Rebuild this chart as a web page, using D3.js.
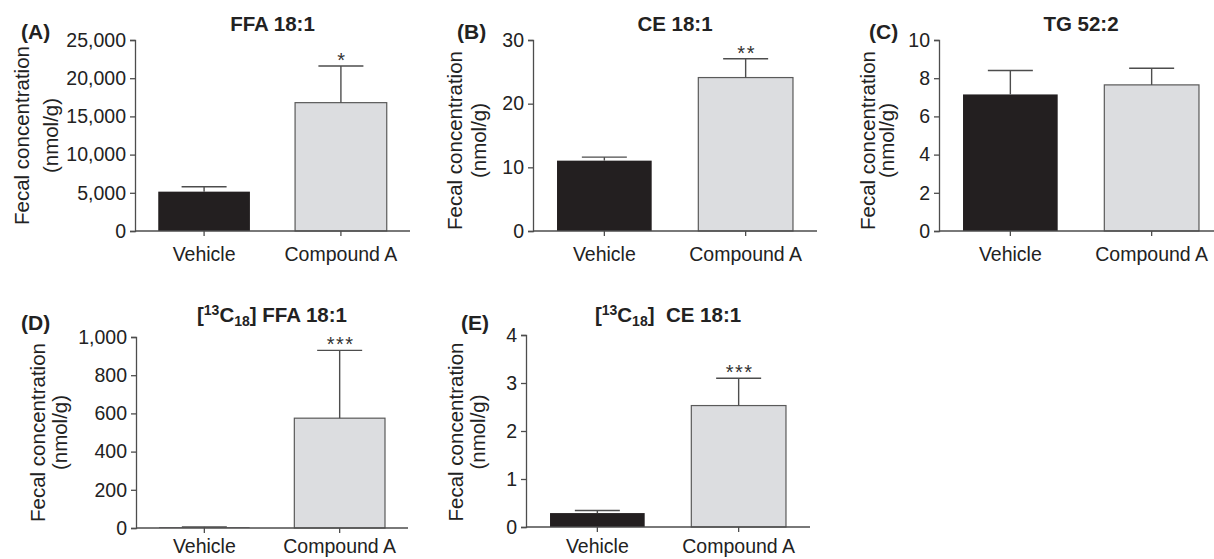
<!DOCTYPE html>
<html>
<head>
<meta charset="utf-8">
<script src="https://cdn.jsdelivr.net/npm/d3@7"></script>
<style>
  body { margin: 0; background: #fff; }
  svg { display: block; font-family: "Liberation Sans", Arial, sans-serif; }
  .axis path, .axis line { stroke: #4d4d4d; stroke-width: 1.3; }
  .axis text { font-size: 19.5px; fill: #222; }
</style>
</head>
<body>
<figure style="margin:0"></figure>
<script>
// groups on the x axis
var categories = ["Vehicle", "Compound A"];

// panel labels and titles
var letters = ["(A)", "(B)", "(C)", "(D)", "(E)"];
var titles  = ["FFA 18:1", "CE 18:1", "TG 52:2", "[13C18] FFA 18:1", "[13C18]  CE 18:1"];

// bar heights (mean) and error bars (SEM), per panel, [Vehicle, Compound A]
var meanA = [5150, 16800],  semA = [650, 4800];
var meanB = [11.05, 24.1],  semB = [0.55, 2.95];
var meanC = [7.15, 7.65],   semC = [1.25, 0.87];
var meanD = [3, 575],       semD = [3, 355];
var meanE = [0.29, 2.53],   semE = [0.055, 0.57];

// significance marks
var starsA = ["", "*"], starsB = ["", "**"], starsC = ["", ""],
    starsD = ["", "***"], starsE = ["", "***"];

// y tick values
var ticksA = [0, 5000, 10000, 15000, 20000, 25000];
var ticksB = [0, 10, 20, 30];
var ticksC = [0, 2, 4, 6, 8, 10];
var ticksD = [0, 200, 400, 600, 800, 1000];
var ticksE = [0, 1, 2, 3, 4];

var W = 1214, H = 559;

// where each panel sits on the page
var layout = [
  {x0: 135, w: 275, top: 40,  bot: 231, t1: -106, t2: -77, tc: 0, lx: 21,  ty: 31,  xl: 30},
  {x0: 533, w: 284, top: 40,  bot: 231, t1: -71,  t2: -47, tc: 5, lx: 457, ty: 31,  xl: 30},
  {x0: 939, w: 284, top: 40,  bot: 231, t1: -64,  t2: -45, tc: 5, lx: 869, ty: 31,  xl: 30},
  {x0: 136, w: 272, top: 337, bot: 528, t1: -91,  t2: -69, tc: 0, lx: 21,  ty: 322, xl: 25},
  {x0: 526, w: 284, top: 335, bot: 527, t1: -63,  t2: -41, tc: 1, lx: 461, ty: 322, xl: 26}
];

var panels = [
  {mean: meanA, sem: semA, stars: starsA, ticks: ticksA},
  {mean: meanB, sem: semB, stars: starsB, ticks: ticksB},
  {mean: meanC, sem: semC, stars: starsC, ticks: ticksC},
  {mean: meanD, sem: semD, stars: starsD, ticks: ticksD},
  {mean: meanE, sem: semE, stars: starsE, ticks: ticksE}
];

var fills = ["#231f20", "#dcdde0"];

var svg = d3.select("figure").append("svg")
    .attr("width", W)
    .attr("height", H);

var fmt = d3.format(",");

panels.forEach(function(p, i) {
  var L = layout[i];
  var ticks = p.ticks;

  var x = d3.scaleBand()
      .domain(categories)
      .range([L.x0, L.x0 + L.w])
      .paddingInner(0.33)
      .paddingOuter(0.17);
  var y = d3.scaleLinear()
      .domain([0, ticks[ticks.length - 1]])
      .range([L.bot, L.top]);

  var g = svg.append("g");

  // bars
  g.selectAll("rect.bar")
      .data(categories)
      .enter().append("rect")
      .attr("class", "bar")
      .attr("x", function(d) { return x(d); })
      .attr("width", x.bandwidth())
      .attr("y", function(d, j) { return y(p.mean[j]); })
      .attr("height", function(d, j) { return y(0) - y(p.mean[j]); })
      .attr("fill", function(d, j) { return fills[j]; })
      .attr("stroke", function(d, j) { return j ? "#5a5a5a" : "none"; })
      .attr("stroke-width", 1.2);

  // error bars (upper only)
  var eb = g.selectAll("g.err")
      .data(categories)
      .enter().append("g")
      .attr("class", "err")
      .attr("stroke", "#4d4d4d")
      .attr("stroke-width", 1.4);
  eb.append("line")
      .attr("x1", function(d) { return x(d) + x.bandwidth() / 2; })
      .attr("x2", function(d) { return x(d) + x.bandwidth() / 2; })
      .attr("y1", function(d, j) { return y(p.mean[j]); })
      .attr("y2", function(d, j) { return y(p.mean[j] + p.sem[j]); });
  eb.append("line")
      .attr("x1", function(d) { return x(d) + x.bandwidth() / 2 - 22.5; })
      .attr("x2", function(d) { return x(d) + x.bandwidth() / 2 + 22.5; })
      .attr("y1", function(d, j) { return y(p.mean[j] + p.sem[j]); })
      .attr("y2", function(d, j) { return y(p.mean[j] + p.sem[j]); });

  // stars
  g.selectAll("text.star")
      .data(categories)
      .enter().append("text")
      .attr("class", "star")
      .attr("x", function(d) { return x(d) + x.bandwidth() / 2 + 1; })
      .attr("y", function(d, j) { return y(p.mean[j] + p.sem[j]) + 1; })
      .attr("text-anchor", "middle")
      .attr("font-size", 20)
      .attr("letter-spacing", 1.5)
      .attr("fill", "#333")
      .text(function(d, j) { return p.stars[j]; });

  // axes
  g.append("g")
      .attr("class", "axis")
      .attr("transform", "translate(" + L.x0 + ",0)")
      .call(d3.axisLeft(y).tickValues(ticks).tickFormat(fmt)
            .tickSizeOuter(0).tickSize(5).tickPadding(4));
  var xa = g.append("g")
      .attr("class", "axis")
      .attr("transform", "translate(0," + L.bot + ")")
      .call(d3.axisBottom(x).tickSizeOuter(0).tickSize(5).tickPadding(4));
  xa.selectAll("text").attr("dy", null).attr("y", L.xl);
  // x axis line runs the full panel width
  xa.select(".domain").attr("d", "M" + L.x0 + ",0H" + (L.x0 + L.w));

  // y axis title
  var cy = (L.top + L.bot) / 2 + L.tc;
  g.append("text")
      .attr("transform", "translate(" + (L.x0 + L.t1) + "," + cy + ") rotate(-90)")
      .attr("text-anchor", "middle")
      .attr("font-size", 20.5)
      .attr("fill", "#222")
      .text("Fecal concentration");
  g.append("text")
      .attr("transform", "translate(" + (L.x0 + L.t2) + "," + cy + ") rotate(-90)")
      .attr("text-anchor", "middle")
      .attr("font-size", 20.5)
      .attr("fill", "#222")
      .text("(nmol/g)");

  // panel letter
  g.append("text")
      .attr("x", L.lx)
      .attr("y", L.ty + 8)
      .attr("font-size", 21)
      .attr("font-weight", "bold")
      .attr("fill", "#222")
      .text(letters[i]);

  // panel title
  var t = g.append("text")
      .attr("x", L.x0 + L.w / 2)
      .attr("y", L.ty)
      .attr("text-anchor", "middle")
      .attr("font-size", 20.5)
      .attr("font-weight", "bold")
      .attr("fill", "#222")
      .attr("xml:space", "preserve")
      .style("white-space", "pre");
  var m = titles[i].match(/^\[13C18\](.*)$/);
  if (m) {
    t.append("tspan").text("[");
    t.append("tspan").attr("font-size", 14).attr("dy", -7).text("13");
    t.append("tspan").attr("dy", 7).text("C");
    t.append("tspan").attr("font-size", 14).attr("dy", 4).text("18");
    t.append("tspan").attr("dy", -4).text("]" + m[1]);
  } else {
    t.text(titles[i]);
  }
});
</script>
</body>
</html>
